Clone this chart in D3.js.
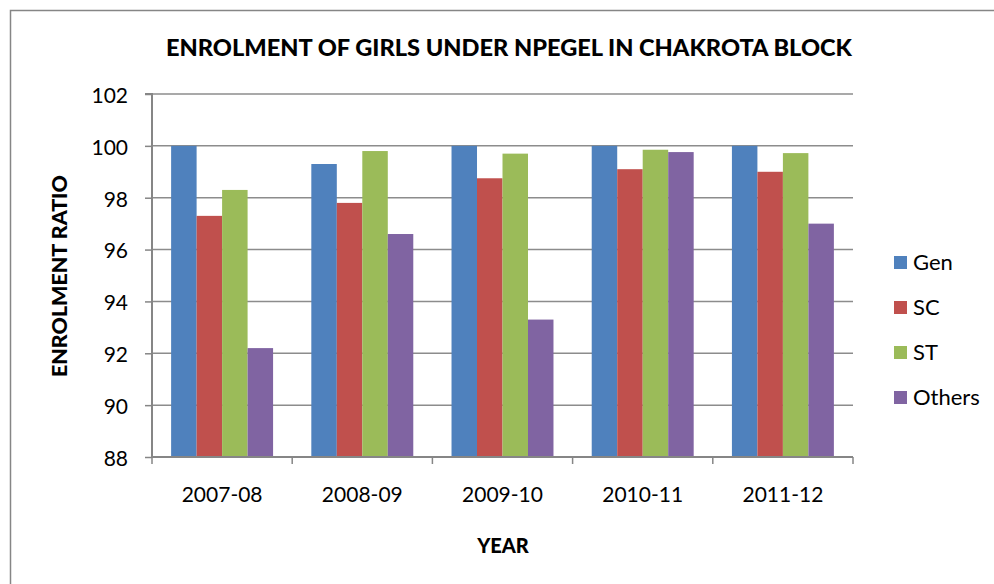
<!DOCTYPE html>
<html><head><meta charset="utf-8">
<script src="https://cdn.jsdelivr.net/npm/d3@7"></script>
<style>body{margin:0;background:#fff;} svg{display:block;font-family:Lato,"Open Sans",sans-serif;}</style>
</head><body>
<svg id="c" width="994" height="584"></svg>
<script>
const categories = ["2007-08","2008-09","2009-10","2010-11","2011-12"];
const seriesNames = ["Gen","SC","ST","Others"];
const gen    = [100, 99.3, 100, 100, 100];
const sc     = [97.3, 97.8, 98.75, 99.1, 99.0];
const st     = [98.3, 99.8, 99.7, 99.85, 99.72];
const others = [92.2, 96.6, 93.3, 99.76, 97.0];
const yTicks = [88,90,92,94,96,98,100,102];
const colors = ["#4F81BD","#C0504D","#9BBB59","#8064A2"];
const title = "ENROLMENT OF GIRLS UNDER NPEGEL IN CHAKROTA BLOCK";
const xTitle = "YEAR", yTitle = "ENROLMENT RATIO";

const seriesVals = [gen, sc, st, others];
const svg = d3.select("#c");
const L = 152, R = 853, T = 94, B = 457;

svg.append("rect").attr("x",10.5).attr("y",10.5).attr("width",1000).attr("height",600)
  .attr("fill","#fff").attr("stroke","#868686").attr("stroke-width",1.5);

const x0 = d3.scaleBand().domain(categories).range([L,R]).paddingInner(0).paddingOuter(0);
// group = 4 bars, gap between groups = 1.5 bar widths
const x1 = d3.scaleBand().domain(seriesNames)
  .range([x0.bandwidth()*0.75/5.5, x0.bandwidth()*4.75/5.5]).padding(0);
const y = d3.scaleLinear().domain([88,102]).range([B,T]);

// gridlines
svg.append("g").selectAll("line").data(yTicks.filter(t=>t!==88)).join("line")
  .attr("x1",L).attr("x2",R).attr("y1",d=>y(d)).attr("y2",d=>y(d))
  .attr("stroke","#8c8c8c").attr("stroke-width",1.5);

// bars
const groups = svg.append("g").selectAll("g").data(categories).join("g")
  .attr("transform",c=>`translate(${x0(c)},0)`);
groups.selectAll("rect").data((c,i)=>seriesNames.map((n,j)=>({n, v:seriesVals[j][i], j})))
  .join("rect")
  .attr("x",d=>x1(d.n)).attr("width",x1.bandwidth())
  .attr("y",d=>y(d.v)).attr("height",d=>y(88)-y(d.v))
  .attr("fill",d=>colors[d.j]);

// y axis
const ya = svg.append("g").attr("transform",`translate(${L},0)`)
  .call(d3.axisLeft(y).tickValues(yTicks).tickSize(7).tickPadding(17).tickFormat(d3.format("d")));
ya.select(".domain").attr("stroke","#868686").attr("stroke-width",2).attr("d",`M-7,${T}H0V${B}`);
ya.selectAll(".tick line").attr("stroke","#868686").attr("stroke-width",1.5);
ya.selectAll(".tick text").attr("font-size",21).attr("fill","#000").attr("font-family","Lato").attr("dy","0.4em");

// x axis
const xa = svg.append("g").attr("transform",`translate(0,${B})`)
  .call(d3.axisBottom(x0).tickSize(0).tickPadding(30));
xa.select(".domain").attr("stroke","#868686").attr("stroke-width",2).attr("d",`M${L},0H${R}`);
xa.selectAll(".tick text").attr("font-size",21).attr("fill","#000").attr("font-family","Lato");
const bounds = [L].concat(categories.map(c=>x0(c)+x0.bandwidth()));
xa.selectAll(".bt").data(bounds).join("line").attr("class","bt")
  .attr("x1",d=>d).attr("x2",d=>d).attr("y1",0).attr("y2",7)
  .attr("stroke","#868686").attr("stroke-width",1.5);

// title
svg.append("text").attr("x",509).attr("y",56).attr("text-anchor","middle")
  .attr("font-weight",900).attr("font-size",22).text(title)
  .attr("textLength",686).attr("lengthAdjust","spacingAndGlyphs");

svg.append("text").attr("x",503).attr("y",553).attr("text-anchor","middle")
  .attr("font-weight",900).attr("font-size",20).text(xTitle);
svg.append("text").attr("transform","translate(67,276) rotate(-90)").attr("text-anchor","middle")
  .attr("font-weight",900).attr("font-size",20).text(yTitle)
  .attr("textLength",202).attr("lengthAdjust","spacingAndGlyphs");

// legend
const lg = svg.append("g").selectAll("g").data(seriesNames).join("g")
  .attr("transform",(n,j)=>`translate(894,${262 + j*45})`);
lg.append("rect").attr("x",0).attr("y",-6).attr("width",13).attr("height",13).attr("fill",(n,j)=>colors[j]);
lg.append("text").attr("x",19).attr("y",8).attr("font-size",22).text(n=>n);
</script>
</body></html>
